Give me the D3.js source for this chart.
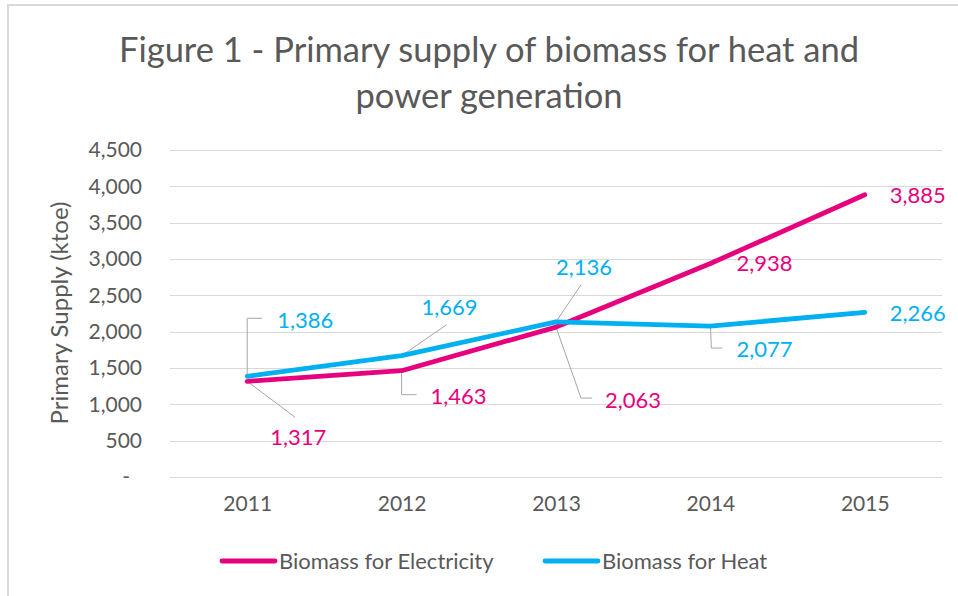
<!DOCTYPE html>
<html>
  <head>
    <meta charset="utf-8" />
    <script src="https://cdnjs.cloudflare.com/ajax/libs/d3/7.8.5/d3.min.js"></script>
    <style>
      body,
      html {
        margin: 0;
        padding: 0;
        background: white;
      }
      text {
        font-family: Lato, "Open Sans", sans-serif;
        fill: #595959;
      }
    </style>
  </head>
  <body>
    <svg id="chart" width="958" height="596"></svg>
    <script>
      // data
      const years = ["2011", "2012", "2013", "2014", "2015"];
      const electricity = [1317, 1463, 2063, 2938, 3885];
      const heat = [1386, 1669, 2136, 2077, 2266];
      const yTicks = [0, 500, 1000, 1500, 2000, 2500, 3000, 3500, 4000, 4500];
      const seriesNames = ["Biomass for Electricity", "Biomass for Heat"];

      // label placement (pixels from the point): text offset + leader line
      const elecLabels = [
        { dx: 23, dy: 56, leader: [[0, 0], [48, 36]] },
        { dx: 29, dy: 26, leader: [[0, 0], [0, 24], [15, 24]] },
        { dx: 49, dy: 73, leader: [[0, 0], [25, 71], [36, 71]] },
        { dx: 26, dy: 0, leader: null },
        { dx: 25, dy: 1, leader: null },
      ];
      const heatLabels = [
        { dx: 30, dy: -56, leader: [[0, 0], [0, -58], [15, -58]] },
        { dx: 20, dy: -48, leader: [[0, 0], [45, -31]] },
        { dx: 0, dy: -54, leader: [[0, 0], [25, -37]] },
        { dx: 26, dy: 23, leader: [[0, 0], [1, 22], [12, 22]] },
        { dx: 25, dy: 1, leader: null },
      ];

      const pink = "#e6007e";
      const blue = "#00b0f0";

      const svg = d3.select("#chart");

      // outer frame (cut off at the right and bottom)
      svg
        .append("rect")
        .attr("x", 8)
        .attr("y", 5)
        .attr("width", 970)
        .attr("height", 620)
        .attr("fill", "white")
        .attr("stroke", "#d9d9d9")
        .attr("stroke-width", 2);

      // title
      const title = svg
        .append("text")
        .attr("text-anchor", "middle")
        .style("font-size", "34.5px");
      title.append("tspan").attr("x", 489).attr("y", 62).text("Figure 1 - Primary supply of biomass for heat and");
      title.append("tspan").attr("x", 489).attr("y", 108).text("power generation");

      const x = d3.scalePoint().domain(years).range([170, 942]).padding(0.5);
      const y = d3.scaleLinear().domain([0, 4500]).range([477, 150]);

      // gridlines
      svg
        .append("g")
        .selectAll("line")
        .data(yTicks)
        .enter()
        .append("line")
        .attr("x1", 170)
        .attr("x2", 942)
        .attr("y1", (d) => Math.round(y(d)) + 0.5)
        .attr("y2", (d) => Math.round(y(d)) + 0.5)
        .attr("stroke", "#d9d9d9")
        .attr("stroke-width", 1);

      // y axis labels
      const yAxis = svg
        .append("g")
        .attr("transform", "translate(142,0)")
        .call(
          d3
            .axisLeft(y)
            .tickValues(yTicks)
            .tickSize(0)
            .tickPadding(0)
            .tickFormat((d) => (d === 0 ? "-" : d3.format(",")(d)))
        );
      yAxis.select(".domain").remove();
      yAxis
        .selectAll("text")
        .style("font-size", "21px")
        .attr("fill", "#595959")
        .attr("dx", (d) => (d === 0 ? -12 : 0));

      // x axis labels
      const xAxis = svg
        .append("g")
        .attr("transform", "translate(0,496)")
        .call(d3.axisBottom(x).tickSize(0).tickPadding(0));
      xAxis.select(".domain").remove();
      xAxis.selectAll("text").style("font-size", "21px").attr("fill", "#595959");

      // y axis title
      svg
        .append("text")
        .attr("transform", "translate(68,313) rotate(-90)")
        .attr("text-anchor", "middle")
        .style("font-size", "24px")
        .text("Primary Supply (ktoe)");

      const line = d3
        .line()
        .x((d, i) => x(years[i]))
        .y((d) => y(d));

      // leader lines
      [
        [electricity, elecLabels],
        [heat, heatLabels],
      ].forEach(([values, labels]) => {
        svg
          .append("g")
          .selectAll("polyline")
          .data(values.map((v, i) => ({ v, i })).filter((d) => labels[d.i].leader))
          .enter()
          .append("polyline")
          .attr("points", (d) => {
            const px = x(years[d.i]);
            const py = y(d.v);
            return labels[d.i].leader.map((p) => [px + p[0], py + p[1]].join(",")).join(" ");
          })
          .attr("fill", "none")
          .attr("stroke", "#a6a6a6")
          .attr("stroke-width", 1);
      });

      // series lines
      [
        [electricity, pink],
        [heat, blue],
      ].forEach(([values, color]) => {
        svg
          .append("path")
          .datum(values)
          .attr("d", line)
          .attr("fill", "none")
          .attr("stroke", color)
          .attr("stroke-width", 4.8)
          .attr("stroke-linecap", "round")
          .attr("stroke-linejoin", "round");
      });

      // data labels
      [
        [electricity, pink, elecLabels],
        [heat, blue, heatLabels],
      ].forEach(([values, color, labels]) => {
        svg
          .append("g")
          .selectAll("text")
          .data(values)
          .enter()
          .append("text")
          .attr("x", (d, i) => x(years[i]) + labels[i].dx)
          .attr("y", (d, i) => y(d) + labels[i].dy)
          .attr("dy", "0.35em")
          .style("font-size", "22px")
          .style("fill", color)
          .text((d) => d3.format(",")(d));
      });

      // legend
      const legendX = [222, 545];
      const legend = svg
        .append("g")
        .selectAll("g")
        .data(seriesNames)
        .enter()
        .append("g")
        .attr("transform", (d, i) => `translate(${legendX[i]},561)`);
      legend
        .append("line")
        .attr("x1", 0)
        .attr("x2", 53)
        .attr("stroke", (d, i) => [pink, blue][i])
        .attr("stroke-width", 4.8)
        .attr("stroke-linecap", "round");
      legend
        .append("text")
        .attr("x", 57)
        .attr("dy", "0.35em")
        .style("font-size", "22px")
        .text((d) => d);
    </script>
  </body>
</html>
